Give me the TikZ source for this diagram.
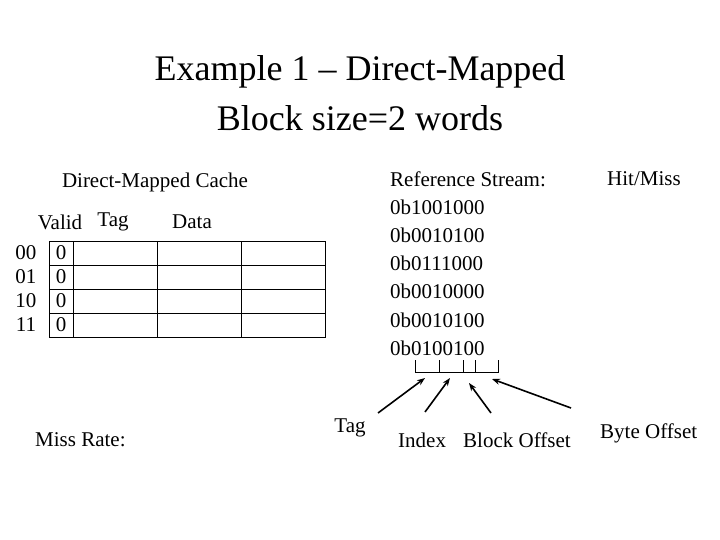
\documentclass[tikz,border=0pt]{standalone}
\usepackage{fontspec}
\setmainfont{Liberation Serif}
\usetikzlibrary{arrows.meta}
\begin{document}
\begin{tikzpicture}[x=1pt,y=-1pt,
  txt/.style={inner sep=0pt,font=\fontsize{21}{24}\selectfont},
  ttl/.style={inner sep=0pt,font=\fontsize{36}{40}\selectfont},
  arr/.style={-{Stealth[length=8pt,width=6pt]},line width=1.6pt},
  grid/.style={line width=0.8pt}]
\useasboundingbox (0,0) rectangle (720,540);
\node[ttl] (t1) at (360,72) {Example 1 -- Direct-Mapped};
\node[ttl] (t2) at (360,118) {Block size=2 words};
\node[txt] (dmc) at (155,182) {Direct-Mapped Cache};
\node[txt] (hv) at (60,222) {Valid};
\node[txt] (ht) at (113,222) {Tag};
\node[txt] (hd) at (192,222) {Data};
\foreach \i/\l in {0/00,1/01,2/10,3/11}{
  \node[txt] (r\i) at (26,{253+24*\i}) {\l};
  \node[txt] (v\i) at (61,{253+24*\i}) {0};
}
\draw[grid] (49,241) rectangle (325,337);
\foreach \y in {265,289,313} \draw[grid] (49,\y) -- (325,\y);
\foreach \x in {73,157,241} \draw[grid] (\x,241) -- (\x,337);
\node[txt,anchor=west] (rs) at (390,179) {Reference Stream:};
\node[txt,anchor=west] (hm) at (607,179) {Hit/Miss};
\foreach \i/\s in {1/0b1001000,2/0b0010100,3/0b0111000,4/0b0010000,5/0b0010100,6/0b0100100}
  \node[txt,anchor=west] (s\i) at (390,{179+28.2*\i}) {\s};
\draw[line width=0.8pt] (415,360) -- (415,372) -- (498,372) -- (498,360);
\foreach \x in {439,463,475} \draw[line width=0.8pt] (\x,360) -- (\x,372);
\coordinate (a1) at (425,378);
\coordinate (a2) at (450,378);
\coordinate (a3) at (469,383);
\coordinate (a4) at (492,379);
\node[txt] (tag) at (350,428) {Tag};
\node[txt,anchor=west] (idx) at (398,440) {Index};
\node[txt,anchor=west] (bo) at (463,440) {Block Offset};
\node[txt,anchor=west] (byo) at (600,433) {Byte Offset};
\node[txt,anchor=west] (mr) at (35,440) {Miss Rate:};
\draw[arr] (378,413) -- (a1);
\draw[arr] (425,412) -- (a2);
\draw[arr] (491,413) -- (a3);
\draw[arr] (571,408) -- (a4);
\end{tikzpicture}
\end{document}
